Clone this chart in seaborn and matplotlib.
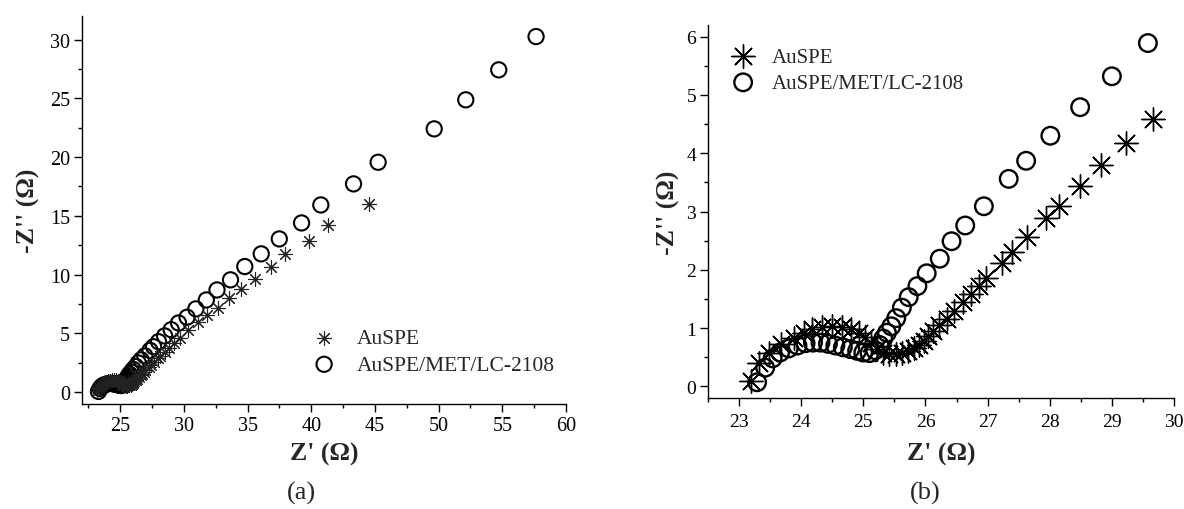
import matplotlib
matplotlib.use("Agg")
import matplotlib.pyplot as plt
from matplotlib.ticker import MultipleLocator
import seaborn as sns
import pandas as pd

# ---- data (Z' , -Z'') ----
auspe_x = [44.5, 41.3, 39.85, 37.95, 36.8, 35.55, 34.5, 33.55, 32.65, 31.85, 31.1, 30.35,
           29.66, 29.23, 28.83, 28.49, 28.15, 27.94, 27.63, 27.40, 27.23, 26.97, 26.86, 26.73,
           26.60, 26.46, 26.34, 26.22, 26.12, 26.04, 25.97, 25.90, 25.82, 25.72, 25.62, 25.52,
           25.42, 25.32, 25.22, 25.12, 25.03, 24.93, 24.80, 24.66, 24.50, 24.34, 24.18, 24.05,
           23.89, 23.67, 23.48, 23.32, 23.19]
auspe_y = [16.0, 14.2, 12.85, 11.75, 10.65, 9.65, 8.8, 8.0, 7.2, 6.55, 5.95, 5.3,
           4.58, 4.17, 3.79, 3.44, 3.10, 2.88, 2.57, 2.30, 2.12, 1.86, 1.72, 1.59,
           1.44, 1.29, 1.16, 1.05, 0.95, 0.86, 0.78, 0.71, 0.65, 0.61, 0.58, 0.56,
           0.56, 0.58, 0.64, 0.74, 0.84, 0.92, 0.98, 1.01, 1.03, 1.02, 0.98, 0.92,
           0.83, 0.72, 0.57, 0.40, 0.10]

met_x = [57.65, 54.72, 52.13, 49.65, 45.25, 43.32, 40.75, 39.24, 37.49, 36.07, 34.78, 33.66,
         32.60, 31.76, 30.94, 30.25, 29.58, 29.00, 28.49, 28.01, 27.62, 27.34, 26.94, 26.64,
         26.42, 26.23, 26.02, 25.87, 25.73, 25.62, 25.53, 25.45, 25.38, 25.32, 25.26, 25.19,
         25.10, 25.00, 24.90, 24.79, 24.67, 24.55, 24.43, 24.31, 24.19, 24.07, 23.94, 23.80,
         23.66, 23.54, 23.42, 23.29]
met_y = [30.25, 27.42, 24.87, 22.40, 19.56, 17.72, 15.93, 14.40, 13.04, 11.77, 10.69, 9.56,
         8.70, 7.85, 7.09, 6.38, 5.89, 5.32, 4.79, 4.30, 3.87, 3.56, 3.09, 2.76,
         2.49, 2.19, 1.94, 1.72, 1.53, 1.35, 1.17, 1.03, 0.92, 0.82, 0.71, 0.62,
         0.57, 0.58, 0.61, 0.64, 0.67, 0.70, 0.73, 0.75, 0.75, 0.74, 0.70, 0.65,
         0.58, 0.48, 0.32, 0.07]

labels = ["AuSPE", "AuSPE/MET/LC-2108"]
xlabel = "Z' (Ω)"
ylabel = "-Z'' (Ω)"
panel_tags = ["(a)", "(b)"]

df_a = pd.DataFrame({"x": auspe_x, "y": auspe_y})
df_m = pd.DataFrame({"x": met_x, "y": met_y})

sns.set_style("ticks")
plt.rcParams["font.family"] = ["Liberation Serif", "DejaVu Serif"]
plt.rcParams["axes.linewidth"] = 1.0
plt.rcParams["xtick.major.width"] = 1.0
plt.rcParams["ytick.major.width"] = 1.0
plt.rcParams["xtick.minor.width"] = 1.0
plt.rcParams["ytick.minor.width"] = 1.0
plt.rcParams["xtick.color"] = "black"
plt.rcParams["ytick.color"] = "black"
plt.rcParams["axes.edgecolor"] = "black"

fig = plt.figure(figsize=(11.84, 5.10), dpi=100)
ax1 = fig.add_axes([82 / 1184, 1 - 405 / 510, (566 - 82) / 1184, (405 - 17) / 510])
ax2 = fig.add_axes([708 / 1184, 1 - 399 / 510, (1174 - 708) / 1184, (399 - 26) / 510])

star = (8, 2, 0)

# panel (a)
sns.scatterplot(data=df_a, x="x", y="y", ax=ax1, marker=star, s=100, color="#222222",
                linewidth=0.8, label=labels[0], zorder=3)
sns.scatterplot(data=df_m, x="x", y="y", ax=ax1, marker="o", s=120, facecolors="none",
                edgecolor="black", linewidth=1.5, label=labels[1], zorder=2)

# panel (b)
sns.scatterplot(data=df_a, x="x", y="y", ax=ax2, marker=star, s=280, color="black",
                linewidth=1.0, label=labels[0], zorder=3)
sns.scatterplot(data=df_m, x="x", y="y", ax=ax2, marker="o", s=160, facecolors="none",
                edgecolor="black", linewidth=1.7, label=labels[1], zorder=2)

ax1.set_xlim(22, 60)
ax1.set_ylim(-1, 32)
ax1.xaxis.set_major_locator(MultipleLocator(5))
ax1.xaxis.set_minor_locator(MultipleLocator(2.5))
ax1.yaxis.set_major_locator(MultipleLocator(5))
ax1.yaxis.set_minor_locator(MultipleLocator(2.5))

ax2.set_xlim(22.5, 30)
ax2.set_ylim(-0.2, 6.2)
ax2.xaxis.set_major_locator(MultipleLocator(1))
ax2.xaxis.set_minor_locator(MultipleLocator(0.5))
ax2.yaxis.set_major_locator(MultipleLocator(1))
ax2.yaxis.set_minor_locator(MultipleLocator(0.5))

for ax, fs, xpad in [(ax1, 14.5, 3), (ax2, 14, 5)]:
    sns.despine(ax=ax)
    ax.tick_params(which="major", direction="out", length=5.5, labelsize=fs, pad=3)
    ax.tick_params(axis="x", which="major", pad=xpad)
    ax.tick_params(which="minor", direction="out", length=3)
    ax.set_xlabel(xlabel, fontsize=18.5, fontweight="bold")
    ax.set_ylabel(ylabel, fontsize=18.5, fontweight="bold")

ax1.xaxis.set_label_coords(0.5, -0.098)
ax1.yaxis.set_label_coords(-0.087, 0.5)
ax2.xaxis.set_label_coords(0.5, -0.118)
ax2.yaxis.set_label_coords(-0.060, 0.5)

ax1.legend(loc="upper left", bbox_to_anchor=(0.478, 0.195), frameon=False, fontsize=15.5,
           borderpad=0, handlelength=1.0, handletextpad=1.0, labelspacing=0.3,
           borderaxespad=0)
ax2.legend(loc="upper left", bbox_to_anchor=(0.053, 0.94), frameon=False, fontsize=15,
           borderpad=0, handlelength=1.0, handletextpad=0.9, labelspacing=0.3,
           borderaxespad=0)

fig.text(301 / 1184, 1 - 493 / 510, panel_tags[0], ha="center", va="center", fontsize=19)
fig.text(925 / 1184, 1 - 493 / 510, panel_tags[1], ha="center", va="center", fontsize=19)

fig.savefig("out.png", dpi=100, facecolor="white")
